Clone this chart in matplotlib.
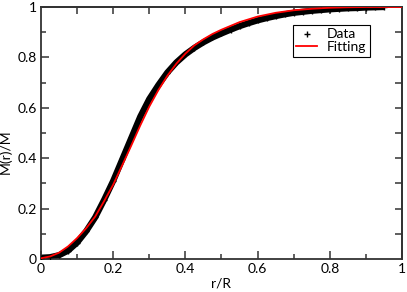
import numpy as np
import matplotlib
matplotlib.use("Agg")
import matplotlib.pyplot as plt

plt.rcParams['font.family'] = ['Lato', 'DejaVu Sans']

# data
r_data = [0.000, 0.025, 0.050, 0.075, 0.100, 0.125, 0.150, 0.175, 0.200, 0.225,
          0.250, 0.275, 0.300, 0.325, 0.350, 0.375, 0.400, 0.425, 0.450, 0.475,
          0.500, 0.525, 0.550, 0.575, 0.600, 0.625, 0.650, 0.675, 0.700, 0.725,
          0.750, 0.775, 0.800, 0.825, 0.850, 0.875, 0.900, 0.925, 0.950]
m_data = [0.005, 0.007, 0.015, 0.033, 0.065, 0.110, 0.165, 0.235, 0.310, 0.395,
          0.480, 0.565, 0.635, 0.690, 0.740, 0.780, 0.812, 0.838, 0.860, 0.879,
          0.895, 0.910, 0.924, 0.936, 0.947, 0.956, 0.964, 0.971, 0.977, 0.981,
          0.985, 0.988, 0.991, 0.993, 0.995, 0.996, 0.998, 0.999, 1.000]

r_fit = [0.000, 0.025, 0.050, 0.075, 0.100, 0.125, 0.150, 0.175, 0.200, 0.225,
         0.250, 0.275, 0.300, 0.325, 0.350, 0.375, 0.400, 0.425, 0.450, 0.475,
         0.500, 0.550, 0.600, 0.650, 0.700, 0.750, 0.800, 0.850, 0.900, 0.950, 1.000]
m_fit = [0.003, 0.010, 0.025, 0.050, 0.083, 0.122, 0.168, 0.230, 0.295, 0.372,
         0.450, 0.530, 0.605, 0.670, 0.727, 0.775, 0.815, 0.848, 0.872, 0.893,
         0.910, 0.940, 0.962, 0.977, 0.987, 0.993, 0.997, 0.999, 1.000, 1.000, 1.000]

fig = plt.figure(figsize=(4.07, 2.92), dpi=100)
ax = fig.add_axes([0.1007, 0.113, 0.887, 0.863])

axcol = '#333333'

# dense data band + the plus markers
ax.plot(r_data, m_data, color='black', lw=4.5, solid_capstyle='butt', zorder=2)
ax.plot(r_data, m_data, ls='none', marker='+', ms=5, mew=1.0, color='black',
        label='Data', zorder=3)
ax.plot(r_fit, m_fit, color='#ff0000', lw=1.3, label='Fitting', zorder=4)

ax.set_xlim(0, 1)
ax.set_ylim(0, 1)
ax.set_xticks([0, 0.2, 0.4, 0.6, 0.8, 1])
ax.set_xticklabels(['0', '0.2', '0.4', '0.6', '0.8', '1'])
ax.set_yticks([0, 0.2, 0.4, 0.6, 0.8, 1])
ax.set_yticklabels(['0', '0.2', '0.4', '0.6', '0.8', '1'])
ax.set_xticks(np.arange(0.1, 1, 0.2), minor=True)
ax.set_yticks(np.arange(0.1, 1, 0.2), minor=True)
ax.tick_params(which='major', direction='in', length=6, width=1.1, color=axcol,
               labelsize=10, pad=3)
ax.tick_params(which='minor', direction='in', length=3.5, width=1.1, color=axcol)

# ticks on top and right every 0.1, no labels
top = ax.secondary_xaxis('top')
top.set_xticks(np.arange(0.1, 1.0, 0.1))
top.tick_params(direction='in', length=5, width=1.1, color=axcol, labeltop=False)
right = ax.secondary_yaxis('right')
right.set_yticks(np.arange(0.1, 1.0, 0.1))
right.tick_params(direction='in', length=5, width=1.1, color=axcol, labelright=False)
for a in (ax, top, right):
    for s in a.spines.values():
        s.set_color(axcol)
        s.set_linewidth(1.3)

ax.set_xlabel('r/R', fontsize=10)
ax.set_ylabel('M(r)/M', fontsize=10)
ax.xaxis.set_label_coords(0.5, -0.075)
ax.yaxis.set_label_coords(-0.082, 0.425)

leg = ax.legend(loc='upper left', bbox_to_anchor=(0.698, 0.929), borderaxespad=0,
                fancybox=False, edgecolor='black', framealpha=1, fontsize=10,
                handlelength=1.5, handletextpad=0.7, borderpad=0.25,
                labelspacing=0.05)
leg.get_frame().set_linewidth(0.8)

plt.savefig('out.png', dpi=100)
